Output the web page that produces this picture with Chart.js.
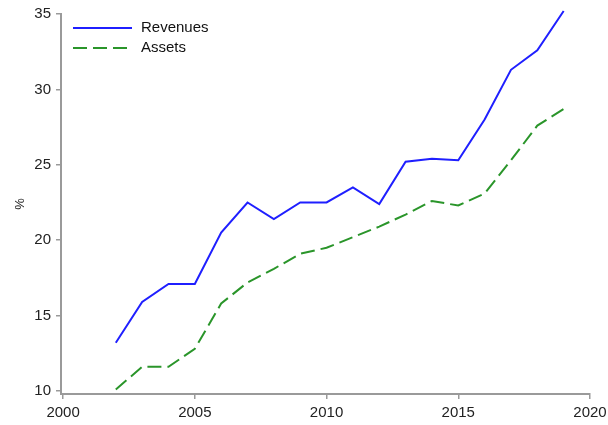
<!DOCTYPE html>
<html>
<head>
<meta charset="utf-8">
<script src="https://cdn.jsdelivr.net/npm/chart.js@4"></script>
<style>
html,body{margin:0;padding:0;background:#fff;}
#wrap{width:608px;height:425px;position:relative;}
</style>
</head>
<body>
<div id="wrap"><canvas id="c" width="608" height="425"></canvas></div>
<script>
const years = [2002,2003,2004,2005,2006,2007,2008,2009,2010,2011,2012,2013,2014,2015,2016,2017,2018,2019];
const revenues = [13.2,15.9,17.1,17.1,20.5,22.5,21.4,22.5,22.5,23.5,22.4,25.2,25.4,25.3,28.0,31.3,32.6,35.2];
const assets = [10.1,11.6,11.6,12.8,15.8,17.2,18.1,19.1,19.5,20.2,20.9,21.7,22.6,22.3,23.1,25.3,27.6,28.7];
const xTicks = [2000,2005,2010,2015,2020];
const yTicks = [10,15,20,25,30,35];
const seriesNames = ['Revenues','Assets'];

const blue = '#1f1fff';
const green = '#2a952a';
const axisGray = '#9a9a9a';
const fontFam = '"Liberation Sans", Arial, sans-serif';

const legendPlugin = {
  id: 'insideLegend',
  afterDraw(chart) {
    const ctx = chart.ctx;
    const items = [
      {name: seriesNames[0], color: blue, dash: [], y: 28},
      {name: seriesNames[1], color: green, dash: [14,6], y: 48}
    ];
    ctx.save();
    items.forEach(it => {
      ctx.beginPath();
      ctx.setLineDash(it.dash);
      ctx.strokeStyle = it.color;
      ctx.lineWidth = 2;
      ctx.moveTo(73, it.y);
      ctx.lineTo(132, it.y);
      ctx.stroke();
      ctx.setLineDash([]);
      ctx.fillStyle = '#111';
      ctx.font = '15px ' + fontFam;
      ctx.textBaseline = 'middle';
      ctx.textAlign = 'left';
      ctx.fillText(it.name, 141, it.y);
    });
    ctx.restore();
  }
};

new Chart(document.getElementById('c'), {
  type: 'line',
  data: {
    datasets: [
      {label: seriesNames[0], data: years.map((y,i)=>({x:y,y:revenues[i]})), borderColor: blue, borderWidth: 2, pointRadius: 0, tension: 0, fill: false, clip: false},
      {label: seriesNames[1], data: years.map((y,i)=>({x:y,y:assets[i]})), borderColor: green, borderWidth: 2, borderDash: [14,6], pointRadius: 0, tension: 0, fill: false, clip: false}
    ]
  },
  options: {
    responsive: false,
    animation: false,
    layout: {padding: {top: 14, right: 18, left: 0, bottom: 0}},
    plugins: {legend: {display: false}, tooltip: {enabled: false}},
    scales: {
      x: {
        type: 'linear',
        min: 1999.92,
        max: 2020,
        afterBuildTicks: s => { s.ticks = xTicks.map(v => ({value: v})); },
        afterFit: s => { s.height = 31; s.paddingLeft = 0; s.paddingRight = 0; },
        grid: {display: true, drawOnChartArea: false, drawTicks: true, tickLength: 5, color: axisGray, lineWidth: 1.5},
        border: {display: true, color: axisGray, width: 2},
        ticks: {color: '#222', font: {size: 15, family: fontFam}, padding: 5, maxRotation: 0, autoSkip: false, callback: v => String(v)}
      },
      y: {
        min: 9.8,
        max: 35,
        afterBuildTicks: s => { s.ticks = yTicks.map(v => ({value: v})); },
        afterFit: s => { s.width = 61; s.paddingTop = 0; s.paddingBottom = 0; },
        grid: {display: true, drawOnChartArea: false, drawTicks: true, tickLength: 5, color: axisGray, lineWidth: 1.5},
        border: {display: true, color: axisGray, width: 2},
        title: {display: true, text: '%', color: '#222', font: {size: 13, family: fontFam}, padding: {top: 13, bottom: 0}},
        ticks: {color: '#222', font: {size: 15, family: fontFam}, padding: 5, autoSkip: false, callback: v => String(v)}
      }
    }
  },
  plugins: [legendPlugin]
});
</script>
</body>
</html>
